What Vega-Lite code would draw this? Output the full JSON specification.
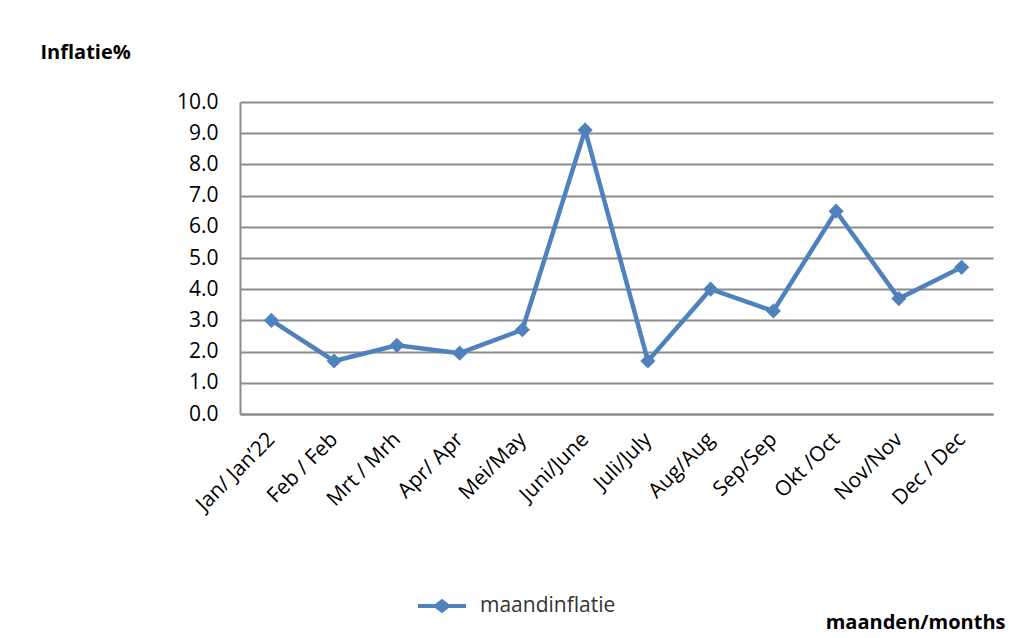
{
  "$schema": "https://vega.github.io/schema/vega-lite/v6.json",
  "autosize": "none",
  "width": 753,
  "height": 312,
  "padding": {"left": 240, "top": 102, "right": 27, "bottom": 224},
  "background": "white",
  "data": {
    "values": [
      {"maand": "Jan/ Jan’22", "inflatie": 3.0, "reeks": "maandinflatie"},
      {"maand": "Feb / Feb", "inflatie": 1.7, "reeks": "maandinflatie"},
      {"maand": "Mrt /  Mrh", "inflatie": 2.2, "reeks": "maandinflatie"},
      {"maand": "Apr/ Apr", "inflatie": 1.95, "reeks": "maandinflatie"},
      {"maand": "Mei/May", "inflatie": 2.7, "reeks": "maandinflatie"},
      {"maand": "Juni/June", "inflatie": 9.1, "reeks": "maandinflatie"},
      {"maand": "Juli/July", "inflatie": 1.7, "reeks": "maandinflatie"},
      {"maand": "Aug/Aug", "inflatie": 4.0, "reeks": "maandinflatie"},
      {"maand": "Sep/Sep", "inflatie": 3.3, "reeks": "maandinflatie"},
      {"maand": "Okt /Oct", "inflatie": 6.5, "reeks": "maandinflatie"},
      {"maand": "Nov/Nov", "inflatie": 3.7, "reeks": "maandinflatie"},
      {"maand": "Dec / Dec", "inflatie": 4.7, "reeks": "maandinflatie"}
    ]
  },
  "mark": {
    "type": "line",
    "strokeWidth": 4.5,
    "point": {"shape": "diamond", "size": 230, "filled": true, "opacity": 1}
  },
  "encoding": {
    "x": {
      "field": "maand",
      "type": "ordinal",
      "sort": null,
      "scale": {"type": "point", "padding": 0.5},
      "axis": {
        "title": "maanden/months",
        "titleFont": "Open Sans",
        "titleFontSize": 20,
        "titleFontWeight": "bold",
        "titleColor": "#000",
        "titleAnchor": "end",
        "titleAlign": "right",
        "titleBaseline": "middle",
        "titleX": 765,
        "titleY": 208,
        "labelAngle": -45,
        "labelAlign": "right",
        "labelBaseline": "middle",
        "labelFont": "Open Sans",
        "labelFontSize": 21,
        "labelColor": "#000",
        "labelPadding": 22,
        "ticks": false,
        "domainColor": "#8c8c8c",
        "domainWidth": 2,
        "grid": false
      }
    },
    "y": {
      "field": "inflatie",
      "type": "quantitative",
      "scale": {"domain": [0, 10], "nice": false},
      "axis": {
        "values": [0, 1, 2, 3, 4, 5, 6, 7, 8, 9, 10],
        "format": ".1f",
        "title": "Inflatie%",
        "titleFont": "Open Sans",
        "titleFontSize": 20,
        "titleFontWeight": "bold",
        "titleColor": "#000",
        "titleAngle": 0,
        "titleAlign": "left",
        "titleBaseline": "middle",
        "titleX": -200,
        "titleY": -50,
        "labelFont": "Open Sans",
        "labelFontSize": 21,
        "labelColor": "#000",
        "labelPadding": 22,
        "ticks": false,
        "domainColor": "#8c8c8c",
        "domainWidth": 2,
        "gridColor": "#8c8c8c",
        "gridWidth": 2
      }
    },
    "color": {
      "field": "reeks",
      "type": "nominal",
      "scale": {"range": ["#4F81BD"]},
      "legend": {
        "title": null,
        "orient": "none",
        "legendX": 178,
        "legendY": 480,
        "symbolType": "M-1,-0.08 L-0.28,-0.08 L0,-0.3 L0.28,-0.08 L1,-0.08 L1,0.08 L0.28,0.08 L0,0.3 L-0.28,0.08 L-1,0.08 Z",
        "symbolSize": 2304,
        "symbolFillColor": "#4F81BD",
        "symbolStrokeColor": "#4F81BD",
        "symbolStrokeWidth": 0,
        "labelFont": "Open Sans",
        "labelFontSize": 21,
        "labelColor": "#333",
        "labelOffset": 14
      }
    }
  },
  "config": {"view": {"stroke": null}}
}
